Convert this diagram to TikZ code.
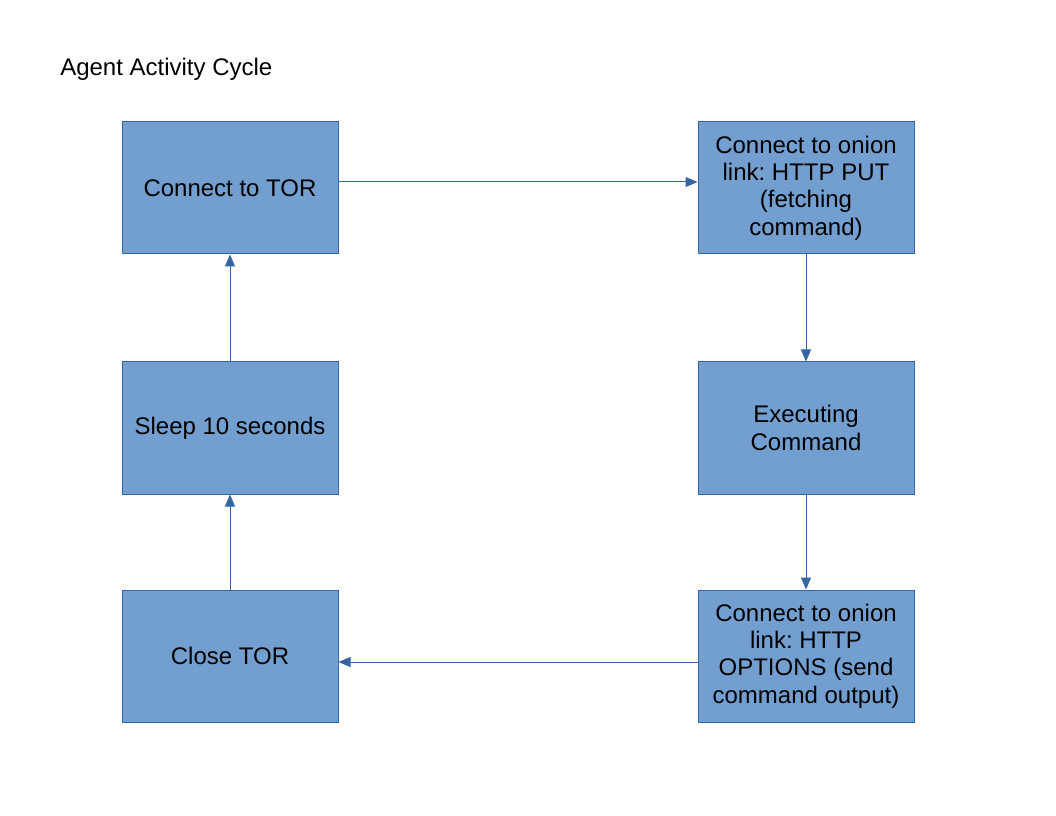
\documentclass[tikz,border=0pt]{standalone}
\usepackage{fontspec}
\setmainfont{Liberation Sans}
\usepackage{xcolor}
\usetikzlibrary{arrows.meta}
\definecolor{boxfill}{HTML}{729FCF}
\definecolor{boxline}{HTML}{3465A4}
\tikzset{
  stepbox/.style={rectangle, draw=boxline, fill=boxfill, line width=0.75pt,
    minimum width=162pt, minimum height=99pt, align=center,
    inner sep=0pt, font=\fontsize{18}{20.5}\selectfont\frenchspacing},
  flow/.style={-{Triangle[length=9pt, width=7.5pt]}, draw=boxline, fill=boxline, line width=0.75pt}
}
\begin{document}
\begin{tikzpicture}[x=0.75pt, y=-0.75pt]
    \useasboundingbox (0,0) rectangle (1056,816);
    \node[anchor=west, inner sep=0pt, font=\fontsize{18}{20.5}\selectfont] (title) at (60,69) {Agent Activity Cycle};

    \node[stepbox] (tor) at (230,188) {Connect to TOR};
    \node[stepbox] (put) at (806,188) {Connect to onion\\link: HTTP PUT\\(fetching\\command)};
    \node[stepbox] (exec) at (806,428) {Executing\\Command};
    \node[stepbox] (opts) at (806,656) {Connect to onion\\link: HTTP\\OPTIONS (send\\command output)};
    \node[stepbox] (close) at (230,656) {Close TOR};
    \node[stepbox] (sleep) at (230,428) {Sleep 10 seconds};

    \draw[flow] ([yshift=4.5pt]tor.east) -- ([yshift=4.5pt]put.west);
    \draw[flow] (put) -- (exec);
    \draw[flow] (exec) -- (opts);
    \draw[flow] ([yshift=-4.5pt]opts.west) -- ([yshift=-4.5pt]close.east);
    \draw[flow] (close) -- (sleep);
    \draw[flow] (sleep) -- (tor);
\end{tikzpicture}
\end{document}
